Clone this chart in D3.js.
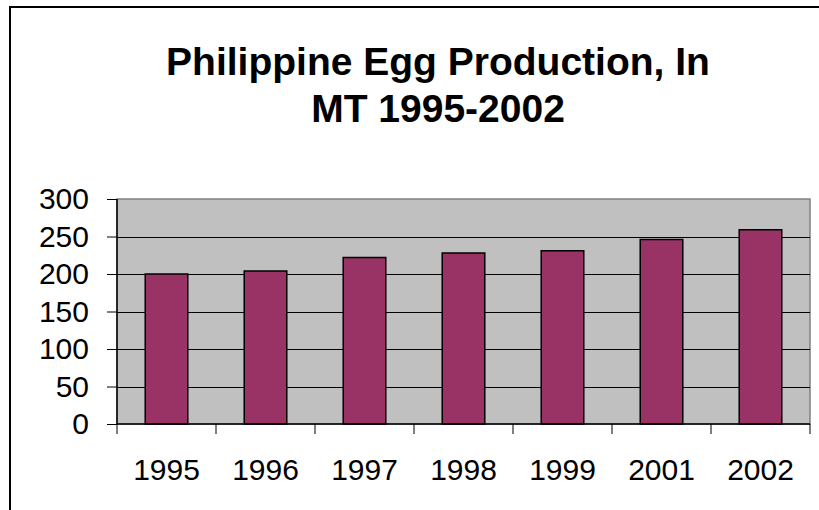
<!DOCTYPE html>
<html>
  <head>
    <script src="https://d3js.org/d3.v7.min.js"></script>
    <style>
      body,
      html {
        margin: 0;
        padding: 0;
        background: #fff;
        font-family: "Liberation Sans", Arial, sans-serif;
        overflow: hidden;
      }
    </style>
    <title>Philippine Egg Production</title>
  </head>
  <body>
    <svg id="chart" width="819" height="510"></svg>

    <script>
      // data
      var years = ["1995", "1996", "1997", "1998", "1999", "2001", "2002"];
      var production = [200, 204, 222, 228, 231, 246, 259];
      var yTicks = [0, 50, 100, 150, 200, 250, 300];
      var titleLines = ["Philippine Egg Production, In", "MT 1995-2002"];

      var svg = d3.select("#chart");
      var plot = { left: 117, right: 810, top: 199, bottom: 424 };

      // outer frame (runs off the right and bottom of the picture)
      svg
        .append("rect")
        .attr("x", 10)
        .attr("y", 7)
        .attr("width", 830)
        .attr("height", 530)
        .attr("fill", "none")
        .attr("stroke", "#000")
        .attr("stroke-width", 2);

      svg
        .append("text")
        .attr("x", 438)
        .attr("y", 75)
        .attr("text-anchor", "middle")
        .attr("font-weight", "bold")
        .attr("font-size", 39)
        .selectAll("tspan")
        .data(titleLines)
        .enter()
        .append("tspan")
        .attr("x", 438)
        .attr("dy", function (d, i) {
          return i === 0 ? 0 : 47;
        })
        .text(function (d) {
          return d;
        });

      var x = d3
        .scaleBand()
        .domain(years)
        .range([plot.left, plot.right])
        .paddingInner(0.57)
        .paddingOuter(0.285);

      var xTicks = d3.scaleBand().domain(years).range([plot.left, plot.right]);

      var y = d3.scaleLinear().domain([0, 300]).range([plot.bottom, plot.top]);

      // plot background
      svg
        .append("rect")
        .attr("x", plot.left)
        .attr("y", plot.top)
        .attr("width", plot.right - plot.left)
        .attr("height", plot.bottom - plot.top)
        .attr("fill", "#c0c0c0")
        .attr("stroke", "#808080")
        .attr("stroke-width", 1.5);

      // gridlines
      svg
        .append("g")
        .selectAll("line")
        .data(yTicks.slice(1, -1))
        .enter()
        .append("line")
        .attr("x1", plot.left)
        .attr("x2", plot.right)
        .attr("y1", function (d) {
          return Math.round(y(d)) + 0.5;
        })
        .attr("y2", function (d) {
          return Math.round(y(d)) + 0.5;
        })
        .attr("stroke", "#000")
        .attr("stroke-width", 1);

      // bars
      svg
        .append("g")
        .selectAll("rect")
        .data(production)
        .enter()
        .append("rect")
        .attr("x", function (d, i) {
          return x(years[i]);
        })
        .attr("y", function (d) {
          return y(d);
        })
        .attr("width", x.bandwidth())
        .attr("height", function (d) {
          return y(0) - y(d);
        })
        .attr("fill", "#993366")
        .attr("stroke", "#000")
        .attr("stroke-width", 1.5);

      // y axis
      var yAxis = svg
        .append("g")
        .attr("transform", "translate(" + plot.left + ",0)")
        .call(d3.axisLeft(y).tickValues(yTicks).tickSize(10).tickPadding(18));

      // x axis
      var xAxis = svg
        .append("g")
        .attr("transform", "translate(0," + plot.bottom + ")")
        .call(
          d3
            .axisBottom(xTicks)
            .tickSize(0)
            .tickPadding(35)
        );

      // ticks between categories on the x axis
      svg
        .append("g")
        .selectAll("line")
        .data(d3.range(years.length + 1))
        .enter()
        .append("line")
        .attr("x1", function (i) {
          return plot.left + i * xTicks.step();
        })
        .attr("x2", function (i) {
          return plot.left + i * xTicks.step();
        })
        .attr("y1", plot.bottom)
        .attr("y2", plot.bottom + 10)
        .attr("stroke", "#000");

      [yAxis, xAxis].forEach(function (g) {
        g.selectAll("path.domain").attr("stroke", "#000").attr("stroke-width", 1.5);
        g.selectAll("line").attr("stroke", "#000");
        g.selectAll("text")
          .attr("font-family", "'Liberation Sans', Arial, sans-serif")
          .attr("font-size", 30)
          .attr("fill", "#000");
      });
      xAxis.select("path.domain").attr("d", "M" + plot.left + ",0H" + plot.right);
      yAxis.select("path.domain").attr("d", "M0," + plot.top + "V" + plot.bottom);
    </script>
  </body>
</html>
